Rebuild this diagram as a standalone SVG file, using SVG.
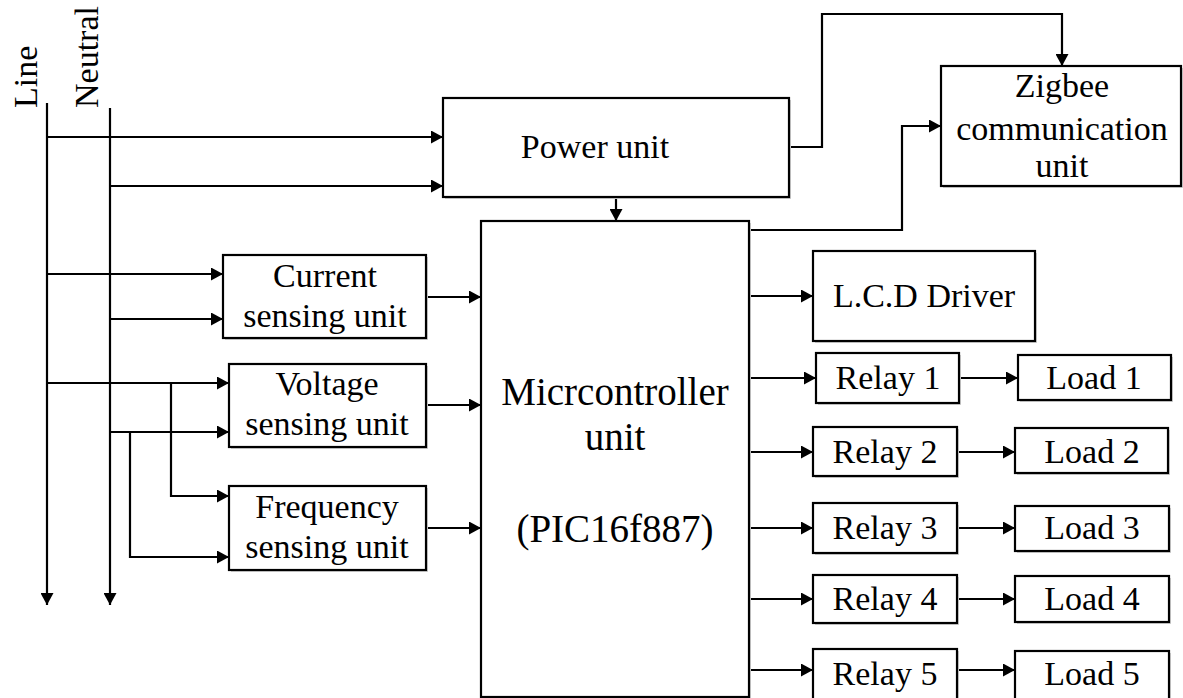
<svg xmlns="http://www.w3.org/2000/svg" width="1183" height="698" viewBox="0 0 1183 698">
  <style>
    .box { fill: #ffffff; stroke: #000000; stroke-width: 2.2; }
    .shadow { fill: #d0d0d0; stroke: none; }
    .wire { fill: none; stroke: #000000; stroke-width: 2.2; }
    .lbl { font-family: "Liberation Serif", "Times New Roman", serif; font-size: 34px; fill: #000000; text-anchor: middle; }
    .big { font-size: 39px; }
    .rail { text-anchor: start; }
  </style>
  <defs>
    <marker id="arrow" markerUnits="userSpaceOnUse" markerWidth="13" markerHeight="13" refX="12" refY="6.5" orient="auto">
      <path d="M0,0 L12,6.5 L0,13 Z" fill="#000000"/>
    </marker>
  </defs>

  <!-- supply rail labels -->
  <text class="lbl rail" transform="translate(37,108) rotate(-90)">Line</text>
  <text class="lbl rail" transform="translate(98,108) rotate(-90)">Neutral</text>

  <!-- connectors -->
  <g id="connectors">
    <path class="wire" d="M47,103 V605" marker-end="url(#arrow)"/>
    <path class="wire" d="M110,108 V605" marker-end="url(#arrow)"/>
    <path class="wire" d="M47,137 H443" marker-end="url(#arrow)"/>
    <path class="wire" d="M110,186 H443" marker-end="url(#arrow)"/>
    <path class="wire" d="M47,274 H223" marker-end="url(#arrow)"/>
    <path class="wire" d="M110,319 H223" marker-end="url(#arrow)"/>
    <path class="wire" d="M47,383 H229" marker-end="url(#arrow)"/>
    <path class="wire" d="M110,432 H229" marker-end="url(#arrow)"/>
    <path class="wire" d="M171,383 V496 H229" marker-end="url(#arrow)"/>
    <path class="wire" d="M130,432 V557 H229" marker-end="url(#arrow)"/>
    <path class="wire" d="M426,297 H481" marker-end="url(#arrow)"/>
    <path class="wire" d="M426,405 H481" marker-end="url(#arrow)"/>
    <path class="wire" d="M426,528 H481" marker-end="url(#arrow)"/>
    <path class="wire" d="M616,197 V221" marker-end="url(#arrow)"/>
    <path class="wire" d="M789,147 H822 V14 H1062 V66" marker-end="url(#arrow)"/>
    <path class="wire" d="M750,230 H902 V126 H941" marker-end="url(#arrow)"/>
    <path class="wire" d="M750,296 H813" marker-end="url(#arrow)"/>
    <path class="wire" d="M750,378 H816" marker-end="url(#arrow)"/>
    <path class="wire" d="M959,378 H1018" marker-end="url(#arrow)"/>
    <path class="wire" d="M750,452 H813" marker-end="url(#arrow)"/>
    <path class="wire" d="M957,452 H1015" marker-end="url(#arrow)"/>
    <path class="wire" d="M750,528 H813" marker-end="url(#arrow)"/>
    <path class="wire" d="M957,528 H1015" marker-end="url(#arrow)"/>
    <path class="wire" d="M750,599 H813" marker-end="url(#arrow)"/>
    <path class="wire" d="M957,599 H1015" marker-end="url(#arrow)"/>
    <path class="wire" d="M750,670 H813" marker-end="url(#arrow)"/>
    <path class="wire" d="M957,670 H1015" marker-end="url(#arrow)"/>
  </g>

  <g id="power-unit">
    <rect class="shadow" x="445" y="100" width="346" height="99"/>
    <rect class="box" x="443" y="98" width="346" height="99"/>
    <text class="lbl" x="595" y="158">Power unit</text>
  </g>

  <g id="zigbee-unit">
    <rect class="shadow" x="943" y="68" width="240" height="120"/>
    <rect class="box" x="941" y="66" width="240" height="120"/>
    <text class="lbl" x="1062" y="97">Zigbee</text>
    <text class="lbl" x="1062" y="140">communication</text>
    <text class="lbl" x="1062" y="177">unit</text>
  </g>

  <g id="microcontroller-unit">
    <rect class="shadow" x="483" y="223" width="268" height="476"/>
    <rect class="box" x="481" y="221" width="268" height="476"/>
    <text class="lbl big" x="615" y="405">Micrcontroller</text>
    <text class="lbl big" x="615" y="450">unit</text>
    <text class="lbl big" x="615" y="542">(PIC16f887)</text>
  </g>

  <g id="current-sensing-unit">
    <rect class="shadow" x="225" y="257" width="203" height="83"/>
    <rect class="box" x="223" y="255" width="203" height="83"/>
    <text class="lbl" x="325" y="287">Current</text>
    <text class="lbl" x="325" y="327">sensing unit</text>
  </g>

  <g id="voltage-sensing-unit">
    <rect class="shadow" x="231" y="366" width="197" height="83"/>
    <rect class="box" x="229" y="364" width="197" height="83"/>
    <text class="lbl" x="327" y="395">Voltage</text>
    <text class="lbl" x="327" y="435">sensing unit</text>
  </g>

  <g id="frequency-sensing-unit">
    <rect class="shadow" x="231" y="488" width="197" height="84"/>
    <rect class="box" x="229" y="486" width="197" height="84"/>
    <text class="lbl" x="327" y="518">Frequency</text>
    <text class="lbl" x="327" y="558">sensing unit</text>
  </g>

  <g id="lcd-driver">
    <rect class="shadow" x="815" y="253" width="222" height="90"/>
    <rect class="box" x="813" y="251" width="222" height="90"/>
    <text class="lbl" x="924" y="307">L.C.D Driver</text>
  </g>

  <g id="relay-1">
    <rect class="shadow" x="818" y="355" width="143" height="50"/>
    <rect class="box" x="816" y="353" width="143" height="50"/>
    <text class="lbl" x="888" y="389">Relay 1</text>
  </g>
  <g id="load-1">
    <rect class="shadow" x="1020" y="357" width="153" height="45"/>
    <rect class="box" x="1018" y="355" width="153" height="45"/>
    <text class="lbl" x="1094" y="389">Load 1</text>
  </g>

  <g id="relay-2">
    <rect class="shadow" x="815" y="429" width="144" height="49"/>
    <rect class="box" x="813" y="427" width="144" height="49"/>
    <text class="lbl" x="885" y="463">Relay 2</text>
  </g>
  <g id="load-2">
    <rect class="shadow" x="1017" y="430" width="153" height="45"/>
    <rect class="box" x="1015" y="428" width="153" height="45"/>
    <text class="lbl" x="1092" y="463">Load 2</text>
  </g>

  <g id="relay-3">
    <rect class="shadow" x="815" y="505" width="144" height="50"/>
    <rect class="box" x="813" y="503" width="144" height="50"/>
    <text class="lbl" x="885" y="539">Relay 3</text>
  </g>
  <g id="load-3">
    <rect class="shadow" x="1017" y="508" width="154" height="45"/>
    <rect class="box" x="1015" y="506" width="154" height="45"/>
    <text class="lbl" x="1092" y="539">Load 3</text>
  </g>

  <g id="relay-4">
    <rect class="shadow" x="815" y="577" width="144" height="48"/>
    <rect class="box" x="813" y="575" width="144" height="48"/>
    <text class="lbl" x="885" y="610">Relay 4</text>
  </g>
  <g id="load-4">
    <rect class="shadow" x="1017" y="578" width="154" height="46"/>
    <rect class="box" x="1015" y="576" width="154" height="46"/>
    <text class="lbl" x="1092" y="610">Load 4</text>
  </g>

  <g id="relay-5">
    <rect class="shadow" x="815" y="651" width="144" height="55"/>
    <rect class="box" x="813" y="649" width="144" height="55"/>
    <text class="lbl" x="885" y="685">Relay 5</text>
  </g>
  <g id="load-5">
    <rect class="shadow" x="1017" y="653" width="154" height="52"/>
    <rect class="box" x="1015" y="651" width="154" height="52"/>
    <text class="lbl" x="1092" y="685">Load 5</text>
  </g>
</svg>
